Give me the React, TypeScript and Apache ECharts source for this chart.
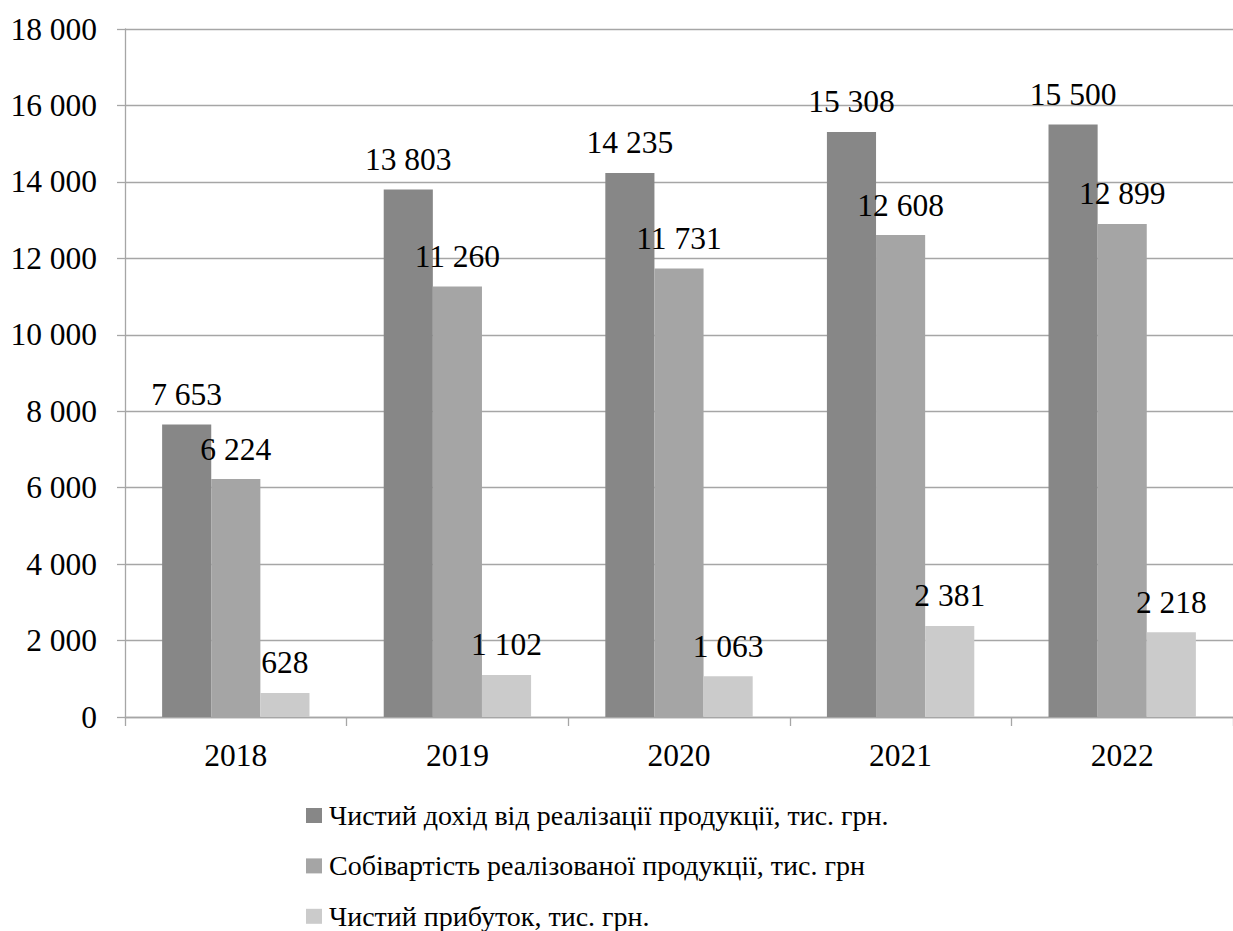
import React, { useEffect, useRef } from "react";
import * as echarts from "echarts";

const years = ["2018", "2019", "2020", "2021", "2022"];
const revenue = [7653, 13803, 14235, 15308, 15500];
const costOfSales = [6224, 11260, 11731, 12608, 12899];
const netProfit = [628, 1102, 1063, 2381, 2218];

const seriesNames = [
  "Чистий дохід від реалізації продукції, тис. грн.",
  "Собівартість реалізованої продукції, тис. грн",
  "Чистий прибуток, тис. грн.",
];
const seriesColors = ["#878787", "#a5a5a5", "#cbcbcb"];

const FONT = "Liberation Serif";
const gridColor = "#a6a6a6";

const fmt = (v: number) => String(v).replace(/\B(?=(\d{3})+(?!\d))/g, " ");

export default function App() {
  const ref = useRef<HTMLDivElement>(null);

  useEffect(() => {
    if (!ref.current) return;
    const chart = echarts.init(ref.current, undefined, { renderer: "svg" });

    const makeSeries = (name: string, data: number[], color: string) => ({
      name,
      type: "bar",
      data,
      barGap: "0%",
      barCategoryGap: "33.5%",
      itemStyle: { color },
      label: {
        show: true,
        position: "top",
        distance: 14,
        color: "#000",
        fontFamily: FONT,
        fontSize: 31.5,
        formatter: (p: any) => fmt(p.value),
      },
    });

    // one legend block per series, stacked vertically and left-aligned
    const legends = seriesNames.map((name, i) => ({
      orient: "horizontal",
      left: 306,
      top: 801.5 + i * 50.4,
      padding: 0,
      icon: "rect",
      itemWidth: 16,
      itemHeight: 15,
      textStyle: { fontFamily: FONT, fontSize: 28, color: "#000", padding: [0, 0, 0, 2] },
      data: [name],
    }));

    chart.setOption({
      animation: false,
      backgroundColor: "#fff",
      grid: { left: 125, top: 29, bottom: 214, right: -8, containLabel: false },
      legend: legends,
      xAxis: {
        type: "category",
        data: years,
        axisLine: { lineStyle: { color: gridColor, width: 1.3 } },
        axisTick: { show: true, length: 9, lineStyle: { color: gridColor, width: 1.3 } },
        axisLabel: { color: "#000", fontFamily: FONT, fontSize: 31.5, margin: 22 },
      },
      yAxis: {
        type: "value",
        min: 0,
        max: 18000,
        interval: 2000,
        axisLine: { show: true, lineStyle: { color: gridColor, width: 1.3 } },
        axisTick: { show: true, length: 8, lineStyle: { color: gridColor, width: 1.3 } },
        splitLine: { lineStyle: { color: gridColor, width: 1.3 } },
        axisLabel: {
          color: "#000",
          fontFamily: FONT,
          fontSize: 31.5,
          margin: 28,
          formatter: (v: number) => fmt(v),
        },
      },
      series: [
        makeSeries(seriesNames[0], revenue, seriesColors[0]),
        makeSeries(seriesNames[1], costOfSales, seriesColors[1]),
        makeSeries(seriesNames[2], netProfit, seriesColors[2]),
      ],
    });

    return () => chart.dispose();
  }, []);

  return (
    <div
      ref={ref}
      style={{ position: "absolute", left: 0, top: 0, width: 1233, height: 931 }}
    />
  );
}
